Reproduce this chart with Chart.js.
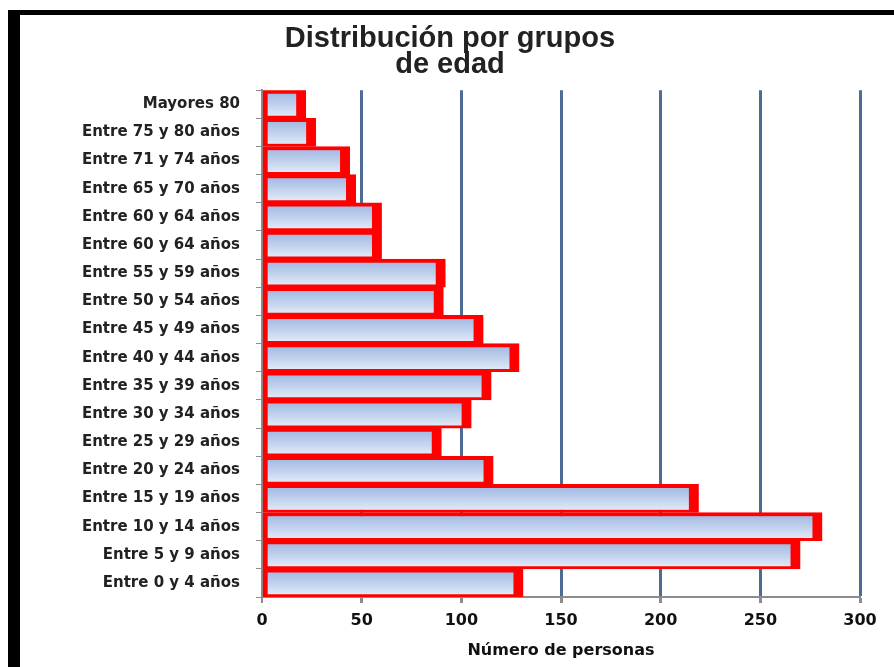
<!DOCTYPE html>
<html>
<head>
<meta charset="utf-8">
<script src="https://cdn.jsdelivr.net/npm/chart.js@4.4.0/dist/chart.umd.min.js"></script>
<style>
    html, body { margin: 0; padding: 0; background: #fff; }
    #wrap { width: 894px; height: 667px; position: relative; }
</style>
</head>
<body>
<div id="wrap"><canvas id="chart-1"></canvas></div>
<script>
// grupos de edad, de abajo hacia arriba (como en Excel)
const grupos = [
    'Entre 0 y 4 años', 'Entre 5 y 9 años', 'Entre 10 y 14 años', 'Entre 15 y 19 años',
    'Entre 20 y 24 años', 'Entre 25 y 29 años', 'Entre 30 y 34 años', 'Entre 35 y 39 años',
    'Entre 40 y 44 años', 'Entre 45 y 49 años', 'Entre 50 y 54 años', 'Entre 55 y 59 años',
    'Entre 60 y 64 años', 'Entre 60 y 64 años', 'Entre 65 y 70 años', 'Entre 71 y 74 años',
    'Entre 75 y 80 años', 'Mayores 80'
];
const personas = [131, 270, 281, 219, 116, 90, 105, 115, 129, 111, 91, 92, 60, 60, 47, 44, 27, 22];
const ticksX = [0, 50, 100, 150, 200, 250, 300];

// marco negro arriba e izquierda
const marco = {
    id: 'marco',
    beforeDraw(chart) {
        const c = chart.ctx;
        c.save();
        c.fillStyle = '#fff';
        c.fillRect(0, 0, chart.width, chart.height);
        c.fillStyle = '#000';
        c.fillRect(8, 10, chart.width - 8, 5);
        c.fillRect(8, 10, 12, chart.height - 10);
        c.restore();
    }
};

const ctx = document.getElementById('chart-1');
new Chart(ctx, {
    type: 'bar',
    data: {
        labels: grupos,
        datasets: [{
            label: 'Número de personas',
            data: personas,
            backgroundColor: function (c) {
                const chart = c.chart;
                if (!chart.chartArea || c.type !== 'data') return '#bccdeb';
                const y = chart.scales.y;
                const mid = y.getPixelForValue(c.dataIndex);
                const half = Math.abs(y.getPixelForValue(1) - y.getPixelForValue(0)) / 2;
                const g = chart.ctx.createLinearGradient(0, mid - half, 0, mid + half);
                g.addColorStop(0, '#9ab3e0');
                g.addColorStop(1, '#e6eef9');
                return g;
            },
            borderColor: '#ff0000',
            borderWidth: { top: 4, bottom: 3, left: 5, right: 10 },
            borderSkipped: false,
            categoryPercentage: 1,
            barPercentage: 1
        }]
    },
    plugins: [marco],
    options: {
        indexAxis: 'y',
        responsive: true,
        maintainAspectRatio: false,
        animation: false,
        layout: { padding: { left: 40, right: 34, top: 0, bottom: 0 } },
        scales: {
            x: {
                min: ticksX[0],
                max: ticksX[ticksX.length - 1],
                afterFit: s => { s.height = 70; },
                ticks: {
                    stepSize: ticksX[1] - ticksX[0],
                    color: '#111',
                    padding: 8,
                    font: { family: 'DejaVu Sans', size: 16, weight: 'bold' }
                },
                grid: {
                    color: c => (c.tick && c.tick.value === 0) ? '#8c8c8c' : '#4d6c94',
                    lineWidth: c => (c.tick && c.tick.value === 0) ? 2 : 3,
                    tickColor: '#8c8c8c',
                    tickLength: 6
                },
                border: { color: '#8c8c8c', width: 2 },
                title: {
                    display: true,
                    text: 'Número de personas',
                    color: '#111',
                    padding: { top: 0, bottom: 7 },
                    font: { family: 'DejaVu Sans', size: 16, weight: 'bold' }
                }
            },
            y: {
                reverse: true,
                afterFit: s => { s.width = 222; },
                ticks: {
                    color: '#222',
                    padding: 16,
                    autoSkip: false,
                    font: { family: 'DejaVu Sans', size: 15, weight: 'bold' }
                },
                grid: {
                    drawOnChartArea: false,
                    tickColor: '#8c8c8c',
                    tickLength: 6
                },
                border: { color: '#8c8c8c', width: 2 }
            }
        },
        plugins: {
            legend: { display: false },
            tooltip: { enabled: false },
            title: {
                display: true,
                text: ['Distribución por grupos', 'de edad'],
                color: '#222',
                padding: { top: 26, bottom: 12 },
                font: { family: 'Liberation Sans', size: 29, weight: 'bold', lineHeight: 0.9 }
            }
        }
    }
});
</script>
</body>
</html>
